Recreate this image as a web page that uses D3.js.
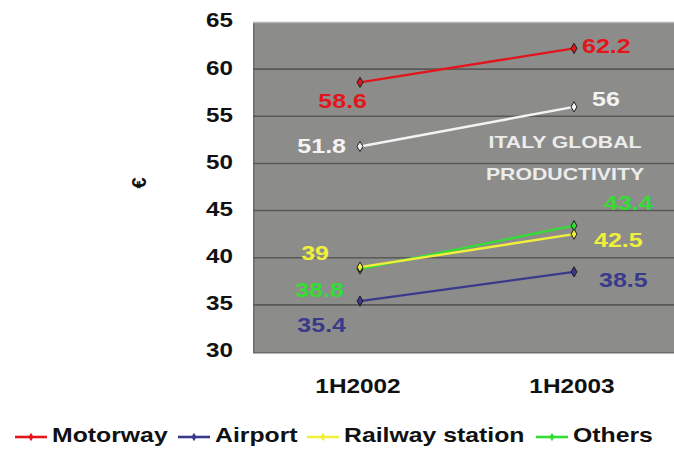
<!DOCTYPE html>
<html>
<head>
<meta charset="utf-8">
<script src="https://cdn.jsdelivr.net/npm/d3@7"></script>
<style>
  html, body { margin: 0; padding: 0; background: #fff; }
  svg { display: block; font-family: "Liberation Sans", Arial, sans-serif; }
</style>
</head>
<body>
<svg id="chart" width="674" height="449"></svg>
<script>
// Half-year periods on the x axis
const periods = ["1H2002", "1H2003"];

// Productivity per channel (€)
const motorway = [58.6, 62.2];
const airport = [35.4, 38.5];
const railway = [39, 42.5];
const others = [38.8, 43.4];
const italyGlobal = [51.8, 56];

const yTicks = [30, 35, 40, 45, 50, 55, 60, 65];

// Wide-set bold type used throughout the chart
const SX = 1.25;

const series = [
  { name: "ITALY GLOBAL PRODUCTIVITY", values: italyGlobal, color: "#f4f4f4", legend: false,
    lab: [{dx: -14, dy: 1, anchor: "end"}, {dx: 18, dy: -6, anchor: "start"}] },
  { name: "Motorway", values: motorway, color: "#e3151c", legend: true,
    lab: [{dx: 7, dy: 20, anchor: "end"}, {dx: 8, dy: -1, anchor: "start"}] },
  { name: "Airport", values: airport, color: "#3a3a8c", legend: true,
    lab: [{dx: -14, dy: 26, anchor: "end"}, {dx: 25, dy: 10, anchor: "start"}] },
  { name: "Railway station", values: railway, color: "#f0f03c", legend: true,
    lab: [{dx: -31, dy: -12, anchor: "end"}, {dx: 20, dy: 8, anchor: "start"}] },
  { name: "Others", values: others, color: "#33dd33", legend: true,
    lab: [{dx: -16, dy: 23, anchor: "end"}, {dx: 30, dy: -21, anchor: "start"}] }
];

const svg = d3.select("#chart");
const plot = { left: 253, top: 22, width: 428, height: 330 };

const x = d3.scaleBand().domain(periods).range([plot.left, plot.left + plot.width]);
const y = d3.scaleLinear().domain([30, 65]).range([plot.top + plot.height, plot.top]);
const cx = d => x(d) + x.bandwidth() / 2;

// Places a horizontally widened text at (px, py)
function wideText(parent, px, py, str, opts) {
  const g = parent.append("g")
    .attr("transform", `translate(${px},${py}) scale(${opts.sx || SX},1)`);
  return g.append("text")
    .attr("x", 0).attr("y", 0)
    .attr("text-anchor", opts.anchor || "start")
    .attr("dominant-baseline", opts.baseline || "middle")
    .attr("font-size", opts.size || 20)
    .attr("font-weight", "bold")
    .attr("fill", opts.fill || "#111")
    .text(str);
}

// Plot background with a soft shadow at left/bottom
svg.append("rect")
  .attr("x", plot.left).attr("y", plot.top)
  .attr("width", plot.width).attr("height", plot.height + 1.5)
  .attr("fill", "#6c6d6a");
svg.append("rect")
  .attr("x", plot.left + 1.5).attr("y", plot.top)
  .attr("width", plot.width).attr("height", plot.height)
  .attr("fill", "#8c8d8a");
svg.append("line")
  .attr("x1", plot.left).attr("x2", plot.left + plot.width)
  .attr("y1", plot.top + 0.5).attr("y2", plot.top + 0.5)
  .attr("stroke", "#b5b5b3").attr("stroke-width", 1.5);

// Horizontal gridlines
svg.append("g").selectAll("line")
  .data(yTicks.filter(t => t > 30 && t < 65))
  .join("line")
  .attr("x1", plot.left).attr("x2", plot.left + plot.width)
  .attr("y1", d => y(d)).attr("y2", d => y(d))
  .attr("stroke", "#585957").attr("stroke-width", 1.6);

// Y axis tick labels (positions from the axis scale)
const yAxis = svg.append("g");
yTicks.forEach(t => wideText(yAxis, 233, y(t), String(t), { anchor: "end", size: 20.5, sx: 1.18 }));

// Axis title: euro sign, rotated
svg.append("text")
  .attr("transform", "translate(141,183) rotate(-90)")
  .attr("text-anchor", "middle")
  .attr("dominant-baseline", "middle")
  .attr("font-size", 20).attr("font-weight", "bold").attr("fill", "#111")
  .text("€");

// X axis category labels
const xAxis = svg.append("g");
periods.forEach(p => wideText(xAxis, cx(p) - 2, 393, p, { anchor: "middle", baseline: "auto", size: 19.5 }));

// Annotation inside plot
wideText(svg, 565, 144, "ITALY GLOBAL", { anchor: "middle", size: 17, fill: "#ececec" });
wideText(svg, 565, 176, "PRODUCTIVITY", { anchor: "middle", size: 17, fill: "#ececec" });

// Lines and markers, back to front
const drawOrder = [series[0], series[1], series[2], series[4], series[3]];
const line = d3.line().x(d => cx(d.p)).y(d => y(d.v));

drawOrder.forEach(s => {
  const pts = periods.map((p, i) => ({ p, v: s.values[i] }));
  svg.append("path")
    .datum(pts)
    .attr("d", line)
    .attr("fill", "none")
    .attr("stroke", s.color)
    .attr("stroke-width", 2.4);
  svg.append("g").selectAll("path")
    .data(pts)
    .join("path")
    .attr("d", d3.symbol(d3.symbolDiamond, 30))
    .attr("transform", d => `translate(${cx(d.p)},${y(d.v)})`)
    .attr("fill", s.color)
    .attr("stroke", "#1c1c1c").attr("stroke-width", 1);
});

// Value labels
series.forEach(s => {
  const g = svg.append("g");
  periods.forEach((p, i) => {
    const o = s.lab[i];
    wideText(g, cx(p) + o.dx, y(s.values[i]) + o.dy, String(s.values[i]),
      { anchor: o.anchor, size: 20, fill: s.color });
  });
});

// Legend
const legendItems = series.filter(s => s.legend);
const legendX = [15, 178, 307, 536];
const lg = svg.append("g").attr("transform", "translate(0,437)");
legendItems.forEach((s, i) => {
  const g = lg.append("g").attr("transform", `translate(${legendX[i]},0)`);
  g.append("line").attr("x1", 0).attr("x2", 32).attr("y1", 0).attr("y2", 0)
    .attr("stroke", s.color).attr("stroke-width", 2.6);
  g.append("path").attr("d", d3.symbol(d3.symbolDiamond, 22))
    .attr("transform", "translate(16,0)")
    .attr("fill", s.color);
  wideText(g, 37, 0, s.name, { size: 20, sx: 1.24 });
});
</script>
</body>
</html>
